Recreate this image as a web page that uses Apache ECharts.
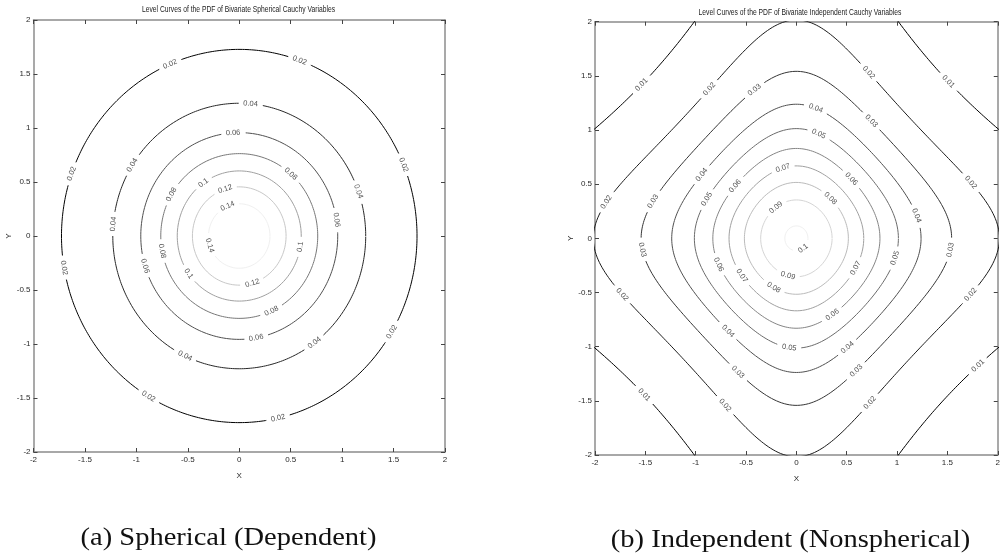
<!DOCTYPE html>
<html>
<head>
<meta charset="utf-8">
<script src="https://cdn.jsdelivr.net/npm/echarts@6/dist/echarts.min.js"></script>
<style>
  html, body { margin: 0; padding: 0; background: #ffffff; }
  #chart { width: 1003px; height: 558px; }
</style>
</head>
<body>
<div id="chart"></div>
<script>
// Contour levels of the two bivariate Cauchy densities
const sphericalLevels = [0.02, 0.04, 0.06, 0.08, 0.10, 0.12, 0.14];
const independentLevels = [0.01, 0.02, 0.03, 0.04, 0.05, 0.06, 0.07, 0.08, 0.09, 0.10];

// Where each level is labelled: polar angle (degrees) about the origin
const sphericalLabelAngles = [
  [112.9, 70.2, 22.4, 160.5, 189.8, 239.3, 282.6, 329.1],
  [84.9, 147.7, 19.6, 174.8, 244.6, 306.5],
  [93.6, 9.0, 196.9, 279.9],
  [49.0, 149.8, 190.6, 294.3],
  [125.3, 350.5, 215.4],
  [107.5, 286.3],
  [112.3, 197.0]
];
const independentLabelAngles = [
  [137.3, 43.8, 223.7, 326.9],
  [122.1, 64.9, 16.6, 170.0, 196.7, 343.3, 245.3, 295.7],
  [106.9, 55.5, 166.5, 183.9, 356.0, 244.8, 296.0],
  [80.9, 148.0, 10.0, 231.6, 296.7],
  [77.0, 157.9, 349.5, 266.0],
  [141.6, 45.2, 197.4, 296.9],
  [101.7, 212.5, 335.0],
  [47.5, 243.6],
  [125.5, 256.3],
  [305.5]
];

// Axis ticks shared by both panels
const axisTicks = [-2, -1.5, -1, -0.5, 0, 0.5, 1, 1.5, 2];

const panelTitles = [
  'Level Curves of the PDF of Bivariate Spherical Cauchy Variables',
  'Level Curves of the PDF of Bivariate Independent Cauchy Variables'
];
const panelCaptions = ['(a) Spherical (Dependent)', '(b) Independent (Nonspherical)'];
const axisNames = ['X', 'Y'];

// ---- level-curve radius along a ray at angle th ----
// spherical: f = (1+x^2+y^2)^(-3/2) / (2*pi)
function sphericalRadius(c, th) {
  const q = Math.pow(2 * Math.PI * c, -2 / 3) - 1;
  return q > 0 ? Math.sqrt(q) : NaN;
}
// independent: f = 1 / (pi^2 (1+x^2)(1+y^2))
function independentRadius(c, th) {
  const K = 1 / (Math.PI * Math.PI * c);
  const a = Math.pow(Math.cos(th) * Math.sin(th), 2);
  const u = a < 1e-12 ? K - 1 : (-1 + Math.sqrt(1 + 4 * a * (K - 1))) / (2 * a);
  return u > 0 ? Math.sqrt(u) : NaN;
}

const SANS = '"Liberation Sans",Arial,Helvetica,sans-serif';
const SERIF = '"Liberation Serif","Times New Roman",serif';
const TICK_FONT_SIZE = 8;
const LABEL_FONT_SIZE = 7.5;
const TITLE_FONT_SIZE = 9;

const panels = [
  { levels: sphericalLevels, labelAngles: sphericalLabelAngles, radius: sphericalRadius,
    grid: { left: 33.5, top: 20, width: 411.5, height: 432 },
    titleXY: [238.5, 10], titleWidth: 193, captionXY: [228.5, 538.5] },
  { levels: independentLevels, labelAngles: independentLabelAngles, radius: independentRadius,
    grid: { left: 595, top: 21.7, width: 410.6, height: 433.3 },
    titleXY: [800, 12.5], titleWidth: 203, captionXY: [790.5, 540] }
];

const chart = echarts.init(document.getElementById('chart'), null, { renderer: 'canvas' });

// text width measurement
const measureCtx = document.createElement('canvas').getContext('2d');
function textWidth(text, size) {
  measureCtx.font = size + 'px ' + SANS;
  return measureCtx.measureText(text).width;
}

const axisLineStyle = { color: '#8c8c8c', width: 1.5 };
const tickStyle = { color: '#444', width: 1 };

function makeAxes() {
  const xAxis = [], yAxis = [], grid = [];
  panels.forEach((p, i) => {
    grid.push(Object.assign({ containLabel: false }, p.grid));
    const common = {
      type: 'value', min: axisTicks[0], max: axisTicks[axisTicks.length - 1],
      interval: axisTicks[1] - axisTicks[0], gridIndex: i,
      splitLine: { show: false },
      axisLine: { show: true, onZero: false, lineStyle: axisLineStyle },
      axisTick: { show: true, inside: true, length: 4, lineStyle: tickStyle }
    };
    const labelStyle = { color: '#2a2a2a', fontSize: TICK_FONT_SIZE, fontFamily: SANS,
      formatter: v => String(v) };
    const nameStyle = { color: '#2a2a2a', fontSize: TICK_FONT_SIZE, fontFamily: SANS };
    xAxis.push(Object.assign({}, common, {
      position: 'bottom', name: axisNames[0], nameLocation: 'middle', nameGap: 20,
      nameTextStyle: nameStyle, axisLabel: Object.assign({ margin: 4 }, labelStyle)
    }));
    xAxis.push(Object.assign({}, common, { position: 'top', axisLabel: { show: false } }));
    yAxis.push(Object.assign({}, common, {
      position: 'left', name: axisNames[1], nameLocation: 'middle', nameGap: 18,
      nameTextStyle: nameStyle, axisLabel: Object.assign({ margin: 3 }, labelStyle)
    }));
    yAxis.push(Object.assign({}, common, { position: 'right', axisLabel: { show: false } }));
  });
  return { grid, xAxis, yAxis };
}

const graphic = [];
panels.forEach((p, i) => {
  const tScale = p.titleWidth / textWidth(panelTitles[i], TITLE_FONT_SIZE);
  graphic.push({ type: 'text', x: p.titleXY[0], y: p.titleXY[1], silent: true, scaleX: tScale,
    style: { text: panelTitles[i], font: TITLE_FONT_SIZE + 'px ' + SANS, fill: '#222',
      align: 'center', verticalAlign: 'middle', textAlign: 'center', textVerticalAlign: 'middle' } });
  graphic.push({ type: 'text', x: p.captionXY[0], y: p.captionXY[1], silent: true, scaleX: 1.14,
    style: { text: panelCaptions[i], font: '25px ' + SERIF, fill: '#111',
      align: 'center', verticalAlign: 'middle', textAlign: 'center', textVerticalAlign: 'middle' } });
});

const base = makeAxes();
chart.setOption(Object.assign({ animation: false, backgroundColor: '#ffffff', graphic, series: [] }, base));

// grey ramp: lowest level black, highest level near white
function levelColor(levels, c) {
  const lo = levels[0], hi = levels[levels.length - 1];
  const g = Math.round(240 * (c - lo) / (hi - lo));
  return 'rgb(' + g + ',' + g + ',' + g + ')';
}

const series = [];
panels.forEach((p, i) => {
  const toPx = pt => chart.convertToPixel({ gridIndex: i }, pt);
  const pointAt = (c, deg) => {
    const th = deg * Math.PI / 180;
    const r = p.radius(c, th);
    return [r * Math.cos(th), r * Math.sin(th)];
  };
  const labelData = [];
  p.levels.forEach((c, k) => {
    const text = String(c);
    const halfGap = textWidth(text, LABEL_FONT_SIZE) / 2 + 4.5;
    const labels = p.labelAngles[k].map(deg => {
      const pt = pointAt(c, deg);
      const a = toPx(pointAt(c, deg - 0.5));
      const b = toPx(pointAt(c, deg + 0.5));
      let rot = Math.atan2(-(b[1] - a[1]), b[0] - a[0]) * 180 / Math.PI;
      if (rot > 90) rot -= 180;
      if (rot <= -90) rot += 180;
      return { pt, px: toPx(pt), rot };
    });
    // sample the curve and break it where a label sits
    const data = [];
    for (let s = 0; s <= 1440; s++) {
      const pt = pointAt(c, s * 0.25);
      const px = toPx(pt);
      const hidden = labels.some(l => Math.hypot(px[0] - l.px[0], px[1] - l.px[1]) < halfGap);
      data.push(hidden ? [pt[0], null] : pt);
    }
    series.push({
      type: 'line', xAxisIndex: 2 * i, yAxisIndex: 2 * i, data,
      showSymbol: false, connectNulls: false, clip: true, silent: true,
      lineStyle: { color: levelColor(p.levels, c), width: 1 }
    });
    labels.forEach(l => labelData.push({
      value: l.pt,
      label: { show: true, formatter: text, rotate: l.rot, position: 'inside',
        color: '#1a1a1a', fontSize: LABEL_FONT_SIZE, fontFamily: SANS,
        align: 'center', verticalAlign: 'middle' }
    }));
  });
  series.push({
    type: 'scatter', xAxisIndex: 2 * i, yAxisIndex: 2 * i, symbolSize: 0,
    silent: true, clip: false, data: labelData, z: 5
  });
});

chart.setOption({ series });
</script>
</body>
</html>
